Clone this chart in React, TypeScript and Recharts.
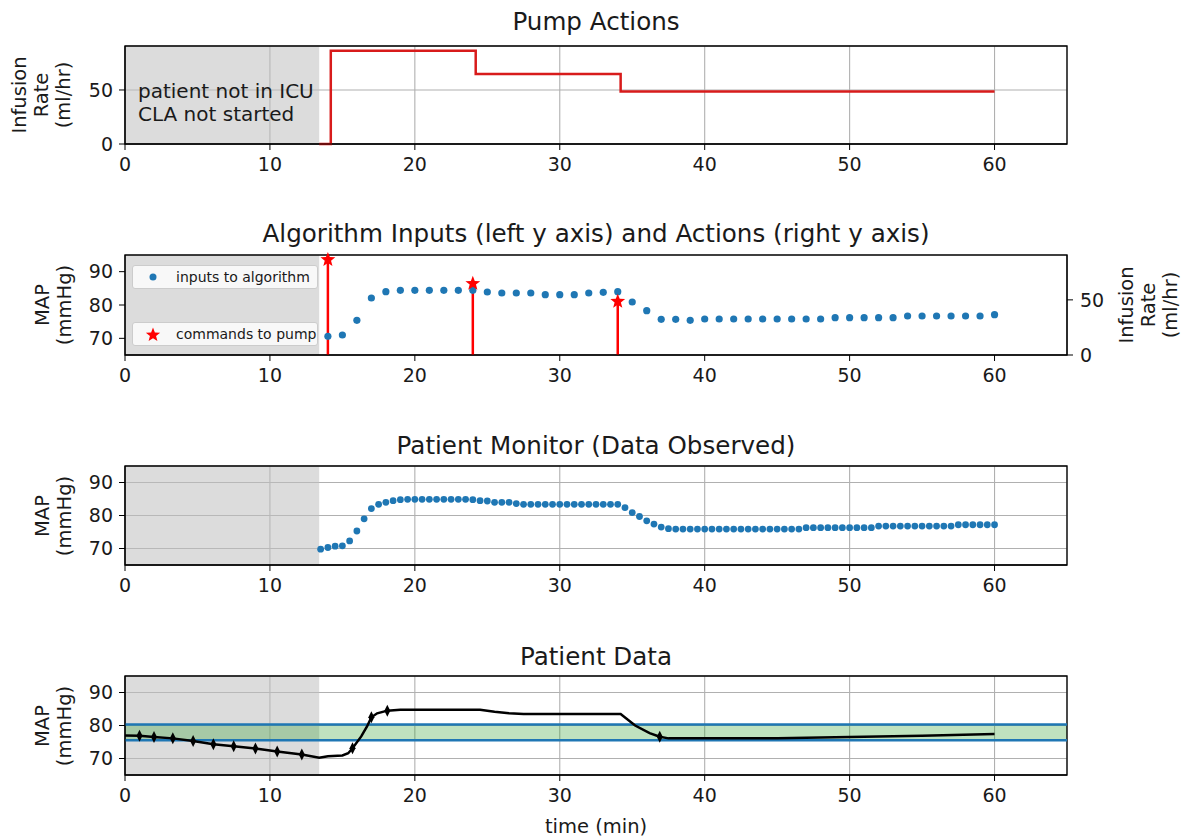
import React from 'react';
import {
  ComposedChart,
  Line,
  Scatter,
  XAxis,
  YAxis,
  CartesianGrid,
  ReferenceArea,
  ReferenceLine,
  ErrorBar,
} from 'recharts';

// ---- shared axis settings ----
const TIME_DOMAIN = [0, 65];
const TIME_TICKS = [0, 10, 20, 30, 40, 50, 60];
const MAP_DOMAIN = [65, 95];
const MAP_TICKS = [70, 80, 90];
const RATE_DOMAIN = [0, 90.7];
const RATE_TICKS = [0, 50];

// period before the closed-loop algorithm starts (min)
const PRE_ICU = [0, 13.4];
// target MAP band (mmHg)
const TARGET_BAND = [75.5, 80.3];

// ---- pump actions (stepped infusion rate, ml/hr) ----
const pumpTimes = [13.4, 14.2, 24.2, 34.2, 60];
const pumpRates = [0, 86.4, 64.8, 48.5, 48.5];

// ---- commands sent to the pump ----
const commandTimes = [14, 24, 34];
const commandRates = [86.4, 64.8, 48.5];

// ---- MAP samples fed to the algorithm (one per minute) ----
const inputTimes = [
  14, 15, 16, 17, 18, 19, 20, 21, 22, 23, 24, 25, 26, 27, 28, 29, 30, 31, 32, 33, 34, 35, 36, 37,
  38, 39, 40, 41, 42, 43, 44, 45, 46, 47, 48, 49, 50, 51, 52, 53, 54, 55, 56, 57, 58, 59, 60,
];
const inputMap = [
  70.6, 71.0, 75.4, 82.1, 84.0, 84.4, 84.4, 84.4, 84.4, 84.4, 84.4, 83.9, 83.6, 83.6, 83.6, 83.1,
  83.1, 83.1, 83.6, 83.8, 84.0, 80.9, 78.3, 75.7, 75.7, 75.4, 75.8, 75.8, 75.8, 75.8, 75.8, 75.8,
  75.8, 75.8, 75.8, 76.2, 76.2, 76.2, 76.2, 76.2, 76.7, 76.7, 76.7, 76.7, 76.7, 76.7, 77.1,
];

// ---- patient monitor readings (every 30 s) ----
const monitorTimes = [
  13.5, 14, 14.5, 15, 15.5, 16, 16.5, 17, 17.5, 18, 18.5, 19, 19.5, 20, 20.5, 21, 21.5, 22, 22.5,
  23, 23.5, 24, 24.5, 25, 25.5, 26, 26.5, 27, 27.5, 28, 28.5, 29, 29.5, 30, 30.5, 31, 31.5, 32,
  32.5, 33, 33.5, 34, 34.5, 35, 35.5, 36, 36.5, 37, 37.5, 38, 38.5, 39, 39.5, 40, 40.5, 41, 41.5,
  42, 42.5, 43, 43.5, 44, 44.5, 45, 45.5, 46, 46.5, 47, 47.5, 48, 48.5, 49, 49.5, 50, 50.5, 51,
  51.5, 52, 52.5, 53, 53.5, 54, 54.5, 55, 55.5, 56, 56.5, 57, 57.5, 58, 58.5, 59, 59.5, 60,
];
const monitorMap = [
  69.8, 70.3, 70.7, 70.8, 72.3, 75.3, 79.0, 82.1, 83.4, 84.0, 84.5, 84.8, 84.9, 84.9, 84.9, 84.9,
  84.9, 84.9, 84.9, 84.9, 84.9, 84.8, 84.5, 84.4, 84.0, 84.0, 84.0, 83.6, 83.4, 83.4, 83.4, 83.4,
  83.4, 83.4, 83.4, 83.4, 83.4, 83.4, 83.4, 83.4, 83.4, 83.4, 82.4, 80.9, 79.7, 78.4, 77.4, 76.5,
  76.0, 75.9, 75.9, 75.9, 75.9, 75.9, 75.9, 75.9, 75.9, 75.9, 75.9, 75.9, 75.9, 75.9, 75.9, 75.9,
  75.9, 75.9, 75.9, 76.3, 76.3, 76.3, 76.3, 76.3, 76.3, 76.3, 76.3, 76.3, 76.3, 76.8, 76.8, 76.8,
  76.8, 76.8, 76.8, 76.8, 76.8, 76.8, 76.8, 76.8, 77.2, 77.2, 77.2, 77.2, 77.2, 77.2,
];

// ---- true patient MAP ----
const patientTimes = [
  0, 1, 2, 3.3, 4.7, 6.1, 7.5, 9, 10.5, 12.2, 13.4, 14, 15, 15.4, 15.7, 16.3, 16.7, 17, 17.4, 18.1,
  19, 24.5, 25.5, 26.5, 27.5, 34.2, 35.2, 36.2, 36.9, 37.5, 45, 50, 55, 60,
];
const patientMap = [
  77.0, 76.9, 76.5, 76.1, 75.3, 74.3, 73.7, 73.0, 72.1, 71.2, 70.2, 70.7, 70.9, 71.6, 73.1, 76.7,
  79.7, 82.5, 83.7, 84.5, 84.8, 84.8, 84.2, 83.7, 83.5, 83.5, 80.0, 77.7, 76.6, 76.1, 76.1, 76.5,
  76.9, 77.4,
];
const eventTimes = [1, 2, 3.3, 4.7, 6.1, 7.5, 9, 10.5, 12.2, 15.7, 17, 18.1, 36.9];
const eventMap = [76.9, 76.5, 76.1, 75.3, 74.3, 73.7, 73.0, 72.1, 71.2, 73.1, 82.5, 84.5, 76.6];

const pumpData = pumpTimes.map((t, i) => ({ t, rate: pumpRates[i] }));
const commandData = commandTimes.map((t, i) => ({
  t,
  rate: commandRates[i],
  stem: [commandRates[i], 0],
}));
const inputData = inputTimes.map((t, i) => ({ t, map: inputMap[i] }));
const monitorData = monitorTimes.map((t, i) => ({ t, map: monitorMap[i] }));
const patientData = patientTimes.map((t, i) => ({ t, map: patientMap[i] }));
const eventData = eventTimes.map((t, i) => ({ t, map: eventMap[i] }));

const FONT = '"DejaVu Sans", sans-serif';
const BLUE = '#1f77b4';
const tickStyle = { fill: '#1a1a1a', fontSize: 19, fontFamily: FONT };

function starPoints(cx: number, cy: number, R: number, r: number) {
  const pts: string[] = [];
  for (let i = 0; i < 10; i++) {
    const a = -Math.PI / 2 + (i * Math.PI) / 5;
    const rad = i % 2 === 0 ? R : r;
    pts.push(`${cx + rad * Math.cos(a)},${cy + rad * Math.sin(a)}`);
  }
  return pts.join(' ');
}

const Dot = (props: any) => <circle cx={props.cx} cy={props.cy} r={3.6} fill={BLUE} />;
const SmallDot = (props: any) => <circle cx={props.cx} cy={props.cy} r={3.4} fill={BLUE} />;
const Star = (props: any) => <polygon points={starPoints(props.cx, props.cy, 7.8, 3.3)} fill="#ff0000" />;
const ThinDiamond = (props: any) => (
  <polygon
    points={`${props.cx},${props.cy - 6} ${props.cx + 3},${props.cy} ${props.cx},${props.cy + 6} ${props.cx - 3},${props.cy}`}
    fill="#000"
  />
);

const xAxis = (
  <XAxis
    type="number"
    dataKey="t"
    domain={TIME_DOMAIN}
    ticks={TIME_TICKS}
    stroke="#000"
    tick={tickStyle}
    tickSize={6}
    tickMargin={8}
    height={30}
    allowDataOverflow
  />
);

function Title({ text, y }: { text: string; y: number }) {
  return (
    <div
      style={{
        position: 'absolute',
        left: 125,
        width: 942,
        top: y - 12,
        textAlign: 'center',
        fontSize: 24.6,
        lineHeight: '24px',
        color: '#1a1a1a',
        whiteSpace: 'nowrap',
      }}
    >
      {text}
    </div>
  );
}

function AxisLabel({ text, x, y }: { text: string; x: number; y: number }) {
  return (
    <div
      style={{
        position: 'absolute',
        left: x,
        top: y,
        transform: 'translate(-50%, -50%) rotate(-90deg)',
        textAlign: 'center',
        fontSize: 19.5,
        lineHeight: '22px',
        whiteSpace: 'pre',
        color: '#1a1a1a',
      }}
    >
      {text}
    </div>
  );
}

function LegendBox({ top, label, marker }: { top: number; label: string; marker: 'dot' | 'star' }) {
  return (
    <div
      style={{
        position: 'absolute',
        left: 132,
        top,
        width: 186,
        height: 24,
        background: 'rgba(255,255,255,0.8)',
        border: '1px solid #cccccc',
        borderRadius: 3,
        boxSizing: 'border-box',
        fontSize: 14,
        color: '#1a1a1a',
      }}
    >
      <svg width={30} height={22} style={{ position: 'absolute', left: 6, top: 0 }}>
        {marker === 'dot' ? (
          <circle cx={14} cy={11} r={3.5} fill={BLUE} />
        ) : (
          <polygon points={starPoints(14, 12, 7.5, 3.2)} fill="#ff0000" />
        )}
      </svg>
      <span style={{ position: 'absolute', left: 43, top: 3, lineHeight: '16px' }}>{label}</span>
    </div>
  );
}

export default function App() {
  return (
    <div
      style={{
        position: 'absolute',
        left: 0,
        top: 0,
        width: 1188,
        height: 840,
        background: '#fff',
        fontFamily: FONT,
        overflow: 'hidden',
      }}
    >
      {/* Pump Actions */}
      <div style={{ position: 'absolute', left: 0, top: 0 }}>
        <ComposedChart width={1188} height={190} margin={{ top: 46, right: 121, bottom: 16, left: 60 }}>
          {xAxis}
          <YAxis
            type="number"
            domain={RATE_DOMAIN}
            ticks={RATE_TICKS}
            stroke="#000"
            tick={tickStyle}
            tickSize={6}
            tickMargin={6}
            width={65}
          />
          <ReferenceArea x1={PRE_ICU[0]} x2={PRE_ICU[1]} fill="#c0c0c0" fillOpacity={0.55} stroke="none" />
          <CartesianGrid stroke="#b0b0b0" strokeWidth={1.1} />
          <Line
            data={pumpData}
            dataKey="rate"
            type="stepAfter"
            stroke="#d81b1b"
            strokeWidth={2.5}
            dot={false}
            isAnimationActive={false}
          />
          <ReferenceArea
            x1={TIME_DOMAIN[0]}
            x2={TIME_DOMAIN[1]}
            y1={RATE_DOMAIN[0]}
            y2={RATE_DOMAIN[1]}
            fill="none"
            stroke="#000"
            strokeWidth={1.3}
          />
        </ComposedChart>
      </div>

      {/* Algorithm inputs and actions */}
      <div style={{ position: 'absolute', left: 0, top: 200 }}>
        <ComposedChart width={1188} height={200} margin={{ top: 55, right: 61, bottom: 15, left: 60 }}>
          {xAxis}
          <YAxis
            yAxisId="map"
            type="number"
            domain={MAP_DOMAIN}
            ticks={MAP_TICKS}
            stroke="#000"
            tick={tickStyle}
            tickSize={6}
            tickMargin={6}
            width={65}
          />
          <YAxis
            yAxisId="rate"
            orientation="right"
            type="number"
            domain={RATE_DOMAIN}
            ticks={RATE_TICKS}
            stroke="#000"
            tick={tickStyle}
            tickSize={6}
            tickMargin={7}
            width={60}
          />
          <ReferenceArea
            yAxisId="map"
            x1={PRE_ICU[0]}
            x2={PRE_ICU[1]}
            fill="#c0c0c0"
            fillOpacity={0.55}
            stroke="none"
          />
          <Scatter
            yAxisId="map"
            data={inputData}
            dataKey="map"
            shape={Dot}
            isAnimationActive={false}
          />
          <Scatter
            yAxisId="rate"
            data={commandData}
            dataKey="rate"
            shape={Star}
            isAnimationActive={false}
          >
            <ErrorBar dataKey="stem" direction="y" width={0} stroke="#ff0000" strokeWidth={2.5} />
          </Scatter>
          <ReferenceArea
            yAxisId="map"
            x1={TIME_DOMAIN[0]}
            x2={TIME_DOMAIN[1]}
            y1={MAP_DOMAIN[0]}
            y2={MAP_DOMAIN[1]}
            fill="none"
            stroke="#000"
            strokeWidth={1.3}
          />
        </ComposedChart>
      </div>

      {/* Patient monitor */}
      <div style={{ position: 'absolute', left: 0, top: 410 }}>
        <ComposedChart width={1188} height={200} margin={{ top: 56, right: 121, bottom: 15, left: 60 }}>
          {xAxis}
          <YAxis
            type="number"
            domain={MAP_DOMAIN}
            ticks={MAP_TICKS}
            stroke="#000"
            tick={tickStyle}
            tickSize={6}
            tickMargin={6}
            width={65}
          />
          <ReferenceArea x1={PRE_ICU[0]} x2={PRE_ICU[1]} fill="#c0c0c0" fillOpacity={0.55} stroke="none" />
          <CartesianGrid stroke="#b0b0b0" strokeWidth={1.1} />
          <Scatter data={monitorData} dataKey="map" shape={SmallDot} isAnimationActive={false} />
          <ReferenceArea
            x1={TIME_DOMAIN[0]}
            x2={TIME_DOMAIN[1]}
            y1={MAP_DOMAIN[0]}
            y2={MAP_DOMAIN[1]}
            fill="none"
            stroke="#000"
            strokeWidth={1.3}
          />
        </ComposedChart>
      </div>

      {/* Patient data */}
      <div style={{ position: 'absolute', left: 0, top: 620 }}>
        <ComposedChart width={1188} height={220} margin={{ top: 56, right: 121, bottom: 35, left: 60 }}>
          {xAxis}
          <YAxis
            type="number"
            domain={MAP_DOMAIN}
            ticks={MAP_TICKS}
            stroke="#000"
            tick={tickStyle}
            tickSize={6}
            tickMargin={6}
            width={65}
          />
          <ReferenceArea x1={PRE_ICU[0]} x2={PRE_ICU[1]} fill="#c0c0c0" fillOpacity={0.55} stroke="none" />
          <ReferenceArea
            y1={TARGET_BAND[0]}
            y2={TARGET_BAND[1]}
            fill="#2ca02c"
            fillOpacity={0.3}
            stroke="none"
          />
          <CartesianGrid stroke="#b0b0b0" strokeWidth={1.1} />
          <ReferenceLine y={TARGET_BAND[1]} stroke={BLUE} strokeWidth={2.5} />
          <ReferenceLine y={TARGET_BAND[0]} stroke={BLUE} strokeWidth={2.5} />
          <Line
            data={patientData}
            dataKey="map"
            type="linear"
            stroke="#000"
            strokeWidth={2.5}
            dot={false}
            isAnimationActive={false}
          />
          <Scatter data={eventData} dataKey="map" shape={ThinDiamond} isAnimationActive={false} />
          <ReferenceArea
            x1={TIME_DOMAIN[0]}
            x2={TIME_DOMAIN[1]}
            y1={MAP_DOMAIN[0]}
            y2={MAP_DOMAIN[1]}
            fill="none"
            stroke="#000"
            strokeWidth={1.3}
          />
        </ComposedChart>
      </div>

      {/* titles and labels */}
      <Title text="Pump Actions" y={22} />
      <Title text="Algorithm Inputs (left y axis) and Actions (right y axis)" y={234} />
      <Title text="Patient Monitor (Data Observed)" y={446} />
      <Title text="Patient Data" y={657} />

      <AxisLabel text={'Infusion\nRate\n(ml/hr)'} x={42} y={95} />
      <AxisLabel text={'MAP\n(mmHg)'} x={54} y={305} />
      <AxisLabel text={'MAP\n(mmHg)'} x={54} y={516} />
      <AxisLabel text={'MAP\n(mmHg)'} x={54} y={726} />
      <AxisLabel text={'Infusion\nRate\n(ml/hr)'} x={1149} y={305} />

      <div
        style={{
          position: 'absolute',
          left: 138,
          top: 80,
          fontSize: 20,
          lineHeight: '23px',
          color: '#1a1a1a',
          whiteSpace: 'pre',
        }}
      >
        {'patient not in ICU\nCLA not started'}
      </div>

      <LegendBox top={265} label="inputs to algorithm" marker="dot" />
      <LegendBox top={322} label="commands to pump" marker="star" />

      <div
        style={{
          position: 'absolute',
          left: 125,
          width: 942,
          top: 816,
          textAlign: 'center',
          fontSize: 19.5,
          lineHeight: '22px',
          color: '#1a1a1a',
        }}
      >
        time (min)
      </div>
    </div>
  );
}
